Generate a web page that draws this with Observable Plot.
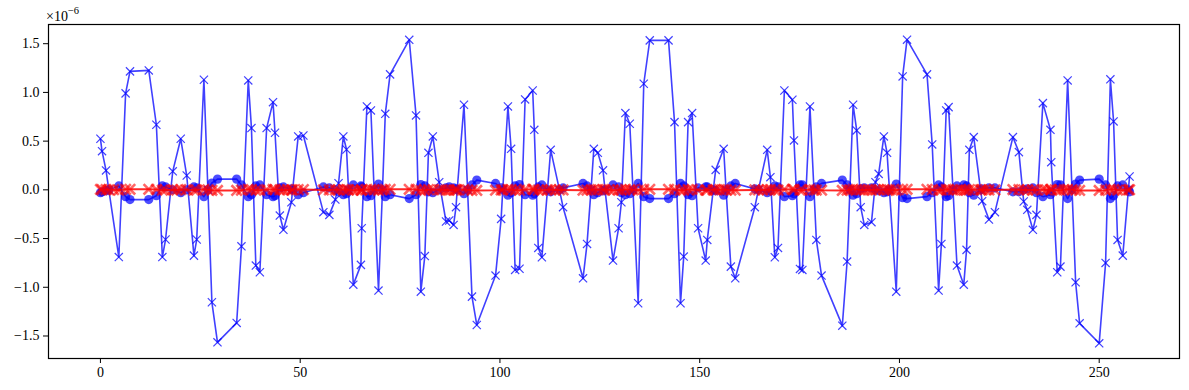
<!DOCTYPE html>
<html><head><meta charset="utf-8">
<script src="https://cdn.jsdelivr.net/npm/d3@7"></script>
<script src="https://cdn.jsdelivr.net/npm/@observablehq/plot@0.6"></script>
<style>
body{margin:0;background:#fff}
#chart svg{font-family:"Liberation Serif","DejaVu Serif",serif}
</style>
</head><body><div id="chart"></div>
<script>
// sample positions (shared by the three series)
const xs = [0,0.4,1.4,2.1,4.6,6.3,7.4,12.1,14.0,15.5,16.3,18.1,20.1,21.6,23.4,24.1,25.9,26.9,27.9,29.3,34.1,35.3,
37.0,37.8,38.9,39.9,41.6,43.2,43.7,44.9,45.8,47.8,48.1,49.5,50.8,55.8,57.3,58.8,59.6,60.8,61.6,62.1,63.3,65.2,
65.4,66.7,67.7,68.5,69.6,70.6,71.3,72.5,77.3,79.0,80.2,81.2,82.1,83.2,84.8,86.5,87.3,88.4,89.0,89.3,91.0,91.9,93.0,94.2,
98.9,100.3,100.7,102.0,102.8,103.8,104.9,106.3,108.2,108.6,109.6,110.5,111.9,112.7,114.9,115.8,120.8,121.8,122.8,123.5,124.5,125.8,126.3,128.3,129.7,
130.4,131.4,132.5,133.3,134.6,136.0,137.5,142.2,143.7,145.2,146.0,147.1,148.1,149.6,151.5,151.9,153.4,154.0,156.0,156.6,157.8,158.9,163.8,164.7,
166.9,167.7,168.8,169.6,171.2,173.2,173.6,175.1,175.7,177.6,178.6,179.2,180.5,185.7,186.9,187.6,188.4,189.3,190.3,191.2,193.0,194.0,
194.8,196.1,196.9,197.5,199.2,200.8,201.9,206.9,208.2,209.8,210.5,211.7,212.3,213.4,214.4,216.1,216.8,217.5,218.6,220.3,220.7,222.4,223.9,
228.4,229.9,231.1,232.0,233.4,234.3,235.9,237.8,238.0,239.5,240.3,242.1,243.2,244.1,245.1,250.0,251.6,252.8,253.6,254.6,255.9,257.3,257.6];

// blue series with "x" markers (units of 1e-6)
const crossVals = [0.524,0.397,0.199,0.0,-0.69,0.99,1.216,1.226,0.668,-0.69,-0.51,0.19,0.524,0.147,-0.675,-0.51,1.13,0.0,-1.154,-1.565,-1.366,-0.58,
1.123,0.634,-0.777,-0.846,0.634,0.9,0.586,-0.264,-0.41,-0.127,0.0,0.548,0.558,-0.229,-0.257,-0.10,0.068,0.548,0.414,0.0,-0.973,-0.77,
-0.394,0.856,0.815,0.0,-1.034,0.0,0.78,1.185,1.54,0.764,-1.045,-0.68,0.38,0.548,0.079,-0.325,-0.315,-0.36,-0.178,0.0,0.873,0.0,-1.096,-1.387,
-0.88,-0.298,0.0,0.856,0.421,-0.822,-0.81,0.928,1.02,0.616,-0.596,-0.692,0.0,0.411,0.0,-0.178,-0.908,-0.555,0.0,0.421,0.38,0.2,0.0,-0.726,-0.394,
-0.127,0.788,0.678,0.0,-1.164,1.089,1.534,1.534,0.695,-1.164,-0.685,0.695,0.788,-0.394,-0.726,-0.514,0.0,0.205,0.421,0.0,-0.788,-0.908,-0.178,0.0,
0.411,0.13,-0.692,-0.596,1.02,0.925,0.507,-0.812,-0.822,0.856,0.0,-0.514,-0.88,-1.394,-0.736,0.0,0.873,0.61,-0.178,-0.36,-0.332,0.079,
0.164,0.548,0.38,0.0,-1.045,1.164,1.541,1.185,0.466,-1.034,-0.555,0.815,0.849,0.0,-0.777,-0.973,-0.616,0.411,0.541,0.0,-0.116,-0.305,-0.229,
0.541,0.387,-0.12,-0.205,-0.41,-0.257,0.89,0.616,0.284,-0.846,-0.788,1.123,0.0,-0.949,-1.37,-1.575,-0.75,1.134,0.702,-0.514,-0.675,0.0,0.137];

// blue series with filled circles
const circleVals = [-0.03,-0.02,-0.01,0.0,0.04,-0.07,-0.10,-0.10,-0.06,0.04,0.03,0.00,-0.03,0.00,0.03,0.02,-0.07,0.0,0.07,0.11,0.11,0.05,
-0.07,-0.05,0.04,0.05,-0.05,-0.07,-0.06,0.02,0.03,0.01,0.0,-0.05,-0.03,0.03,0.02,0.00,-0.02,-0.05,-0.04,0.0,0.05,0.04,
0.03,-0.07,-0.06,0.0,0.06,0.0,-0.07,-0.05,-0.09,-0.05,0.055,0.04,-0.02,-0.03,0.00,0.02,0.03,0.02,0.01,0.0,-0.04,0.0,0.05,0.10,
0.066,0.02,0.0,-0.055,-0.03,0.04,0.055,-0.05,-0.055,-0.04,0.03,0.05,0.0,-0.02,0.0,0.02,0.066,0.04,0.0,-0.05,-0.03,-0.01,0.0,0.05,0.03,
-0.03,-0.05,-0.04,0.0,0.066,-0.07,-0.09,-0.09,-0.04,0.066,0.04,-0.05,-0.06,0.02,0.03,0.03,0.0,-0.01,-0.055,0.0,0.04,0.066,0.01,0.0,
-0.03,-0.01,0.04,0.03,-0.07,-0.06,-0.04,0.05,0.05,-0.07,0.0,0.03,0.066,0.10,0.05,0.0,-0.055,-0.04,0.01,0.02,0.02,0.00,
-0.01,-0.03,-0.02,0.0,0.06,-0.08,-0.09,-0.07,-0.03,0.05,0.03,-0.07,-0.06,0.0,0.04,0.05,0.04,-0.03,-0.055,0.0,0.01,0.02,0.02,
-0.02,-0.02,0.00,0.01,0.02,-0.03,-0.07,-0.05,-0.02,0.055,0.05,-0.09,0.0,0.06,0.10,0.11,0.05,-0.09,-0.06,0.04,0.05,0.0,-0.02];

// red series with "x" markers (all close to zero)
const redVals = [0.004,0.003,0.002,0.0,-0.003,0.005,0.006,0.006,0.004,-0.003,-0.002,0.001,0.003,0.001,-0.003,-0.002,0.005,0.0,-0.005,-0.006,-0.006,-0.003,
0.005,0.003,-0.004,-0.004,0.003,0.004,0.003,-0.001,-0.002,-0.001,0.0,0.003,0.003,-0.001,-0.001,0.000,0.000,0.003,0.002,0.0,-0.004,-0.004,
-0.002,0.004,0.004,0.0,-0.005,0.0,0.004,0.005,0.006,0.004,-0.005,-0.003,0.002,0.003,0.000,-0.002,-0.002,-0.002,-0.001,0.0,0.004,0.0,-0.005,-0.006,
-0.004,-0.001,0.0,0.004,0.002,-0.004,-0.004,0.004,0.005,0.003,-0.003,-0.003,0.0,0.002,0.0,-0.001,-0.004,-0.003,0.0,0.002,0.002,0.001,0.0,-0.003,-0.002,
-0.001,0.004,0.003,0.0,-0.005,0.005,0.006,0.006,0.003,-0.005,-0.003,0.003,0.004,-0.002,-0.003,-0.002,0.0,0.001,0.002,0.0,-0.004,-0.004,-0.001,0.0,
0.002,0.001,-0.003,-0.003,0.005,0.004,0.002,-0.004,-0.004,0.004,0.0,-0.002,-0.004,-0.006,-0.003,0.0,0.004,0.003,-0.001,-0.002,-0.002,0.000,
0.001,0.003,0.002,0.0,-0.005,0.005,0.006,0.005,0.002,-0.005,-0.003,0.004,0.004,0.0,-0.004,-0.004,-0.003,0.002,0.003,0.0,-0.001,-0.001,-0.001,
0.003,0.002,-0.001,-0.001,-0.002,-0.001,0.004,0.003,0.001,-0.004,-0.004,0.005,0.0,-0.004,-0.006,-0.006,-0.003,0.005,0.003,-0.002,-0.003,0.0,0.001];

// additional red samples seen inside the dense red clusters
const redExtraX = [3.3,19.1,46.8,64.2,85.6,113.8,127.3,155.0,165.8,192.1,198.3,215.2,221.5,236.8,241.2];
const redExtraVals = [0.001,-0.002,0.002,-0.001,0.001,-0.002,0.001,0.002,-0.001,0.001,-0.002,0.001,0.002,-0.001,0.001];

const xTicks = [0,50,100,150,200,250];
const yTicks = [-1.5,-1.0,-0.5,0.0,0.5,1.0,1.5];
const scaleBase = "×10";
const scaleExp = "−6";

if (crossVals.length !== xs.length || circleVals.length !== xs.length || redVals.length !== xs.length) {
  throw new Error(`length mismatch ${xs.length} ${crossVals.length} ${circleVals.length} ${redVals.length}`);
}

const crossData = xs.map((x,i)=>({x, y: crossVals[i]}));
const circleData = xs.map((x,i)=>({x, y: circleVals[i]}));
const redData = xs.map((x,i)=>({x, y: redVals[i]}))
  .concat(redExtraX.map((x,i)=>({x, y: redExtraVals[i]})))
  .sort((a,b)=>a.x-b.x);

const plot = Plot.plot({
  width: 1189, height: 390,
  marginLeft: 48, marginRight: 10, marginTop: 24, marginBottom: 32,
  style: {fontFamily: '"Liberation Serif","DejaVu Serif",serif', fontSize: "14px", background: "#fff", color: "#000"},
  x: {domain: [-13.0, 270.1], ticks: xTicks, tickFormat: d => String(d), tickSize: 5, tickPadding: 4, label: null},
  y: {domain: [-1.731, 1.697], ticks: yTicks, tickFormat: ".1f", tickSize: 5, tickPadding: 4, label: null},
  marks: [
    Plot.line(crossData, {x: "x", y: "y", stroke: "#0000ff", strokeOpacity: 0.75, strokeWidth: 1.6}),
    Plot.dot(crossData, {x: "x", y: "y", symbol: "times", r: 3.8, stroke: "#0000ff", strokeOpacity: 0.75, strokeWidth: 1.2}),
    Plot.line(circleData, {x: "x", y: "y", stroke: "#0000ff", strokeOpacity: 0.75, strokeWidth: 1.6}),
    Plot.dot(circleData, {x: "x", y: "y", r: 4.6, fill: "#0000ff", fillOpacity: 0.7, stroke: "none"}),
    Plot.line(redData, {x: "x", y: "y", stroke: "#ff0000", strokeOpacity: 0.85, strokeWidth: 2}),
    Plot.dot(redData, {x: "x", y: "y", symbol: "times", r: 4.8, stroke: "#ff0000", strokeOpacity: 0.6, strokeWidth: 2.6}),
    Plot.frame({stroke: "#000", strokeWidth: 1.2})
  ]
});
document.getElementById("chart").appendChild(plot);

const svg = d3.select(plot);
const t = svg.append("text").attr("x", 46).attr("y", 21).attr("text-anchor", "start")
  .attr("font-size", 14).attr("fill", "#000");
t.append("tspan").text(scaleBase);
t.append("tspan").attr("dy", -7).attr("font-size", 10.5).text(scaleExp);
</script>
</body></html>
